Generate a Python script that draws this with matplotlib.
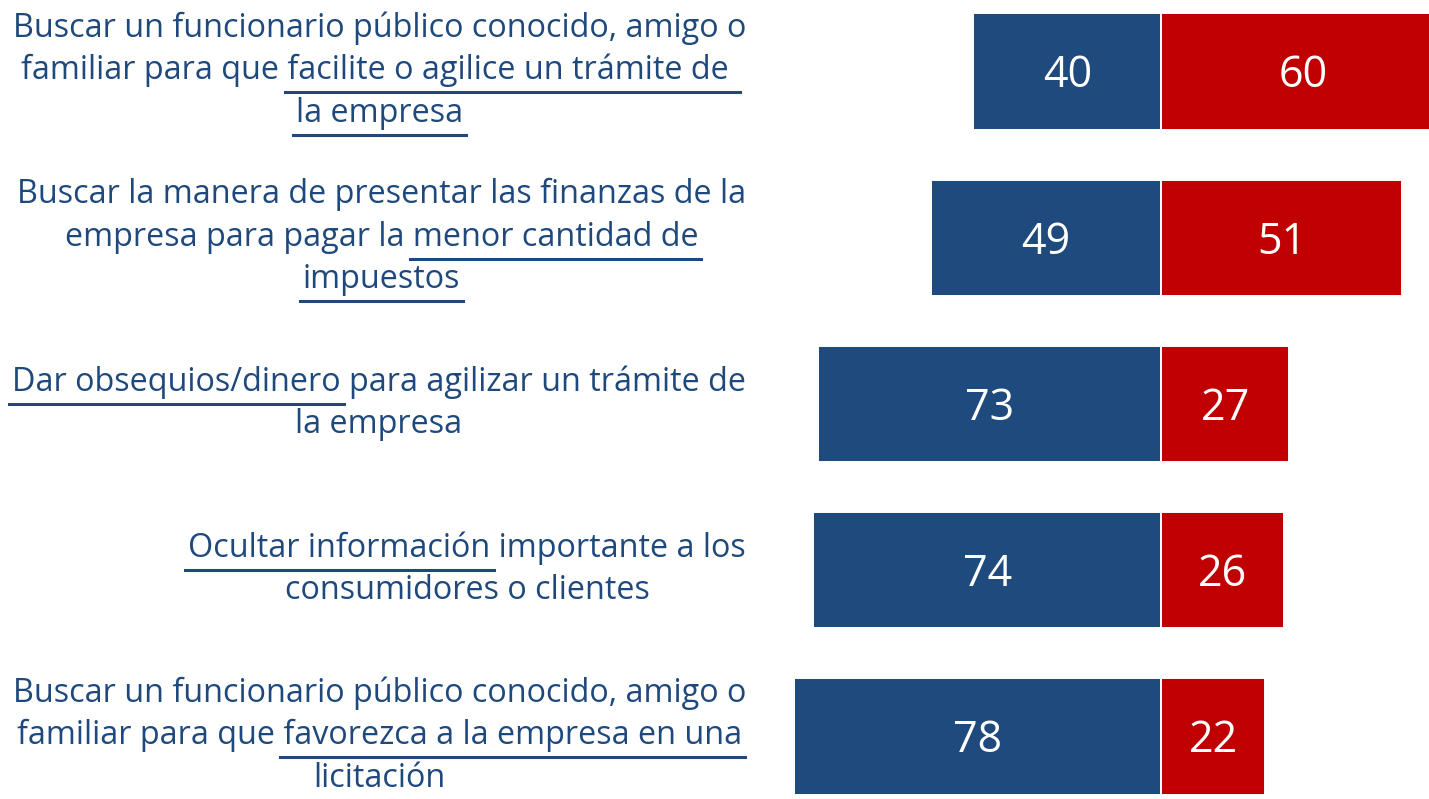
import matplotlib
matplotlib.use("Agg")
import matplotlib.pyplot as plt
from matplotlib.font_manager import FontProperties
from matplotlib.transforms import IdentityTransform, offset_copy
from matplotlib.lines import Line2D

# Datos
etiquetas = [
    "Buscar un funcionario público conocido, amigo o\nfamiliar para que facilite o agilice un trámite de \nla empresa",
    "Buscar la manera de presentar las finanzas de la\nempresa para pagar la menor cantidad de\nimpuestos",
    "Dar obsequios/dinero para agilizar un trámite de\nla empresa",
    "Ocultar información importante a los\nconsumidores o clientes",
    "Buscar un funcionario público conocido, amigo o\nfamiliar para que favorezca a la empresa en una\nlicitación",
]
# (línea, texto subrayado)
subrayados = [
    [(1, "facilite o agilice un trámite de "), (2, "la empresa")],
    [(1, "menor cantidad de"), (2, "impuestos")],
    [(0, "Dar obsequios/dinero")],
    [(0, "Ocultar información")],
    [(1, "favorezca a la empresa en una")],
]
azul = [40, 49, 73, 74, 78]
rojo = [60, 51, 27, 26, 22]

AZUL = "#1F4A7D"
ROJO = "#C00000"
TEXTO = "#1F497D"
FUENTE = "Open Sans"

fig = plt.figure(figsize=(14.29, 7.99), dpi=100)
ax = fig.add_axes([0, 0, 1, 1])
ax.set_xlim(-246.6, 56.8)
ax.set_ylim(4.376, -0.43)
ax.axis("off")

pos = list(range(len(azul)))
ax.barh(pos, [-v for v in azul], height=0.70, color=AZUL, edgecolor="white", linewidth=1.4)
ax.barh(pos, rojo, height=0.70, color=ROJO, edgecolor="white", linewidth=1.4)

# valores dentro de las barras
trans_num = offset_copy(ax.transData, fig=fig, x=0, y=-16, units="dots")
for i, (a, r) in enumerate(zip(azul, rojo)):
    ax.text(-a / 2, i, str(a), ha="center", va="baseline", color="white",
            fontsize=31, family=FUENTE, transform=trans_num)
    ax.text(r / 2, i, str(r), ha="center", va="baseline", color="white",
            fontsize=31, family=FUENTE, transform=trans_num)

# etiquetas de la izquierda con subrayados
fp = FontProperties(family=FUENTE, size=23.3)
renderer = fig.canvas.get_renderer()


def ancho(s):
    return renderer.get_text_width_height_descent(s, fp, ismath=False)[0]


x_der = ax.transData.transform((-88.2, 0))[0]
paso = 42.5
for i, texto in enumerate(etiquetas):
    lineas = texto.split("\n")
    n = len(lineas)
    y_c = ax.transData.transform((0, i))[1]
    anchos = [ancho(l) for l in lineas]
    x_c = x_der - max(anchos) / 2
    for k, linea in enumerate(lineas):
        y_base = y_c - ((k - (n - 1) / 2) * paso + 8)
        fig.text(x_c, y_base, linea, ha="center", va="baseline", color=TEXTO,
                 fontproperties=fp, transform=IdentityTransform())
        for kk, sub in subrayados[i]:
            if kk != k:
                continue
            idx = linea.find(sub)
            x0 = x_c - anchos[k] / 2 + ancho(linea[:idx]) if idx > 0 else x_c - anchos[k] / 2
            x1 = x0 + ancho(sub)
            fig.add_artist(Line2D([x0 - 3, x1 + 3], [y_base - 13, y_base - 13],
                                  color=TEXTO, linewidth=2.2,
                                  transform=IdentityTransform()))

fig.savefig("out.png", dpi=100)
